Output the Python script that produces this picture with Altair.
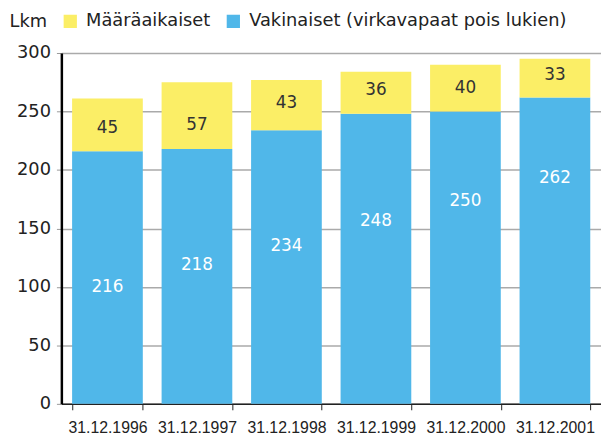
import altair as alt
import pandas as pd

dates = ["31.12.1996", "31.12.1997", "31.12.1998", "31.12.1999", "31.12.2000", "31.12.2001"]
vakinaiset = [216, 218, 234, 248, 250, 262]
maaraaikaiset = [45, 57, 43, 36, 40, 33]
# where each value label sits, in data units
vakinaiset_label_at = [100, 119, 135, 156, 173, 193]
maaraaikaiset_label_at = [236, 238, 257, 268, 270, 281]
series = ["Määräaikaiset", "Vakinaiset (virkavapaat pois lukien)"]
colors = ["#fbee66", "#50b7e9"]

rows = []
for d, v, m, vl, ml in zip(dates, vakinaiset, maaraaikaiset, vakinaiset_label_at, maaraaikaiset_label_at):
    rows.append({"date": d, "type": series[1], "value": v, "ord": 0, "tc": "white", "ly": vl})
    rows.append({"date": d, "type": series[0], "value": m, "ord": 1, "tc": "#333333", "ly": ml})
df = pd.DataFrame(rows)

FONT = "DejaVu Sans"

x = alt.X("date:N", sort=dates, title=None,
          scale=alt.Scale(paddingInner=0.21, paddingOuter=0.12),
          axis=alt.Axis(labelAngle=0, labelFontSize=16, labelColor="#222222",
                        labelFont="Liberation Sans", tickBand="extent", tickColor="#222222",
                        tickSize=6, domainColor="#222222", domainWidth=1.5,
                        labelPadding=10))

bars = alt.Chart(df).mark_bar().encode(
    x=x,
    y=alt.Y("value:Q", stack="zero",
            scale=alt.Scale(domain=[0, 300], nice=False),
            axis=alt.Axis(values=[0, 50, 100, 150, 200, 250, 300], title="Lkm",
                          titleAngle=0, titleAlign="left", titleBaseline="middle",
                          titleX=-53, titleY=-32, titleFont=FONT, titleFontSize=18,
                          titleFontWeight="normal", titleColor="#222222",
                          labelFont=FONT, labelFontSize=18, labelColor="#222222",
                          labelPadding=6, tickSize=5, tickColor="#999999",
                          domainColor="#000000", domainWidth=2.5,
                          grid=True, gridColor="#aaaaaa", gridWidth=1.5)),
    color=alt.Color("type:N", scale=alt.Scale(domain=series, range=colors),
                    legend=alt.Legend(title=None, orient="none", direction="horizontal",
                                      legendX=0, legendY=-41, symbolType="square",
                                      symbolSize=180, symbolStrokeWidth=0,
                                      labelFont=FONT, labelFontSize=18, labelLimit=0,
                                      labelColor="#222222", columnPadding=14,
                                      symbolOpacity=1, labelOffset=7)),
    order=alt.Order("ord:Q"),
)

labels = alt.Chart(df).mark_text(font=FONT, fontSize=17, baseline="middle").encode(
    x=alt.X("date:N", sort=dates),
    y=alt.Y("ly:Q"),
    text=alt.Text("value:Q"),
    color=alt.Color("tc:N", scale=None, legend=None),
)

chart = alt.layer(bars, labels).properties(
    width=546, height=355,
    autosize=alt.AutoSizeParams(type="none"),
    padding={"left": 54, "top": 43, "right": 0, "bottom": 30},
).configure_view(stroke=None)

chart.save("out.html", embed_options={"renderer": "svg", "actions": False})
